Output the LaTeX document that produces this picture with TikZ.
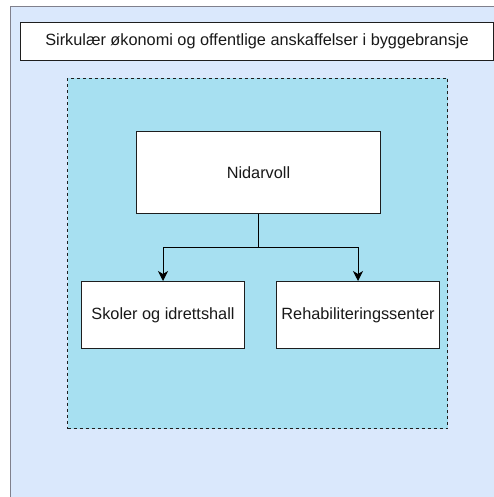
\documentclass[tikz,border=0pt]{standalone}
\usepackage{fontspec}
\setmainfont{Liberation Sans}
\usetikzlibrary{arrows.meta}
\definecolor{outerfill}{RGB}{218,232,252}
\definecolor{outerline}{RGB}{128,128,140}
\definecolor{innerfill}{RGB}{167,224,241}
\definecolor{lineclr}{RGB}{30,30,30}
\begin{document}
\begin{tikzpicture}[x=1pt,y=-1pt,
  every node/.style={font=\fontsize{16.3}{19}\selectfont, text=black!90},
  box/.style={draw=lineclr, fill=white, line width=1pt, inner sep=0pt, anchor=north west},
  link/.style={draw=black, line width=1pt, -{Stealth[length=10pt,width=10pt,inset=3pt]}}]
\useasboundingbox (0,0) rectangle (494,497);
\clip (0,0) rectangle (494,497);
\fill[outerfill] (10,6) rectangle (500,505);
\draw[outerline, line width=1.5pt] (10.5,505) -- (10.5,6.5) -- (500,6.5);
\node[box, minimum width=473pt, minimum height=38pt] (title) at (20,22) {Sirkulær økonomi og offentlige anskaffelser i byggebransje};
\node[draw=lineclr, fill=innerfill, dashed, line width=1pt, dash pattern=on 3pt off 3pt, inner sep=0pt, anchor=north west, minimum width=380pt, minimum height=350pt] (group) at (67,78) {};
\node[box, minimum width=244pt, minimum height=82pt] (nid) at (136,131) {Nidarvoll};
\node[box, minimum width=163pt, minimum height=67pt] (skole) at (81,281) {Skoler og idrettshall};
\node[box, minimum width=163pt, minimum height=67pt] (rehab) at (276,281) {Rehabiliteringssenter};
\coordinate (split) at ([yshift=-33pt]nid.south);
\draw[link] (nid.south) -- (split) -| (skole.north);
\draw[link] (split) -| (rehab.north);
\end{tikzpicture}
\end{document}
